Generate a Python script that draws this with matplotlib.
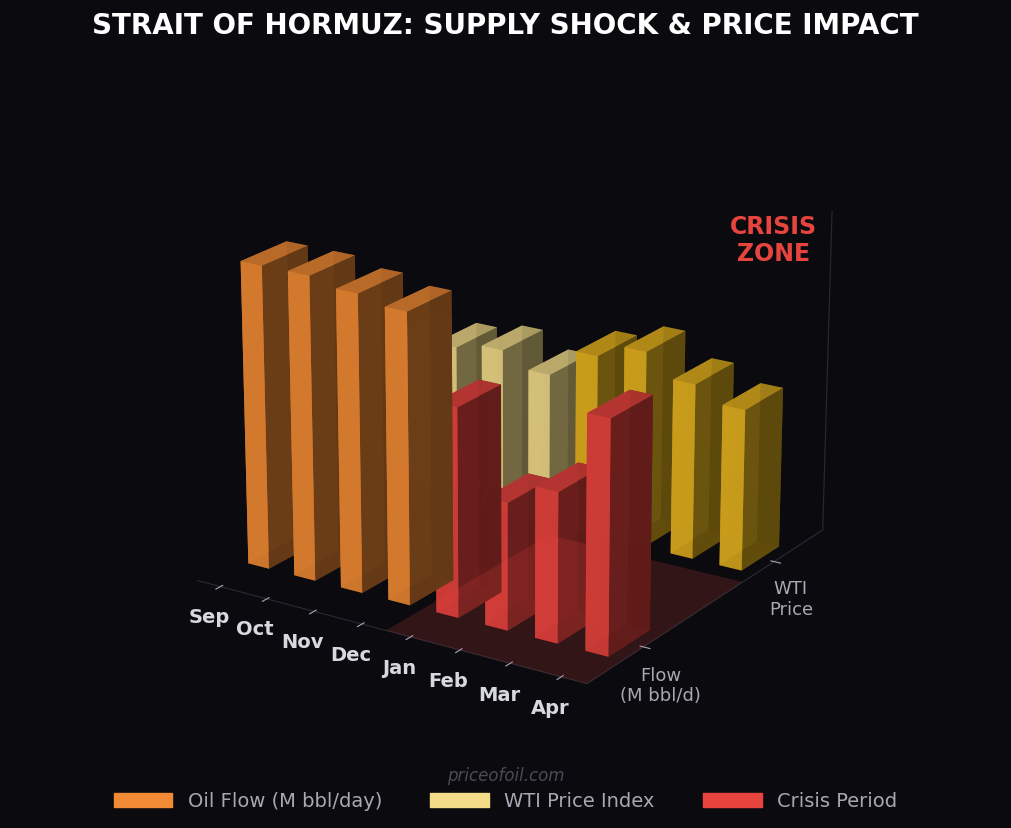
import numpy as np
import matplotlib.pyplot as plt
from matplotlib.patches import Patch

months = ['Sep', 'Oct', 'Nov', 'Dec', 'Jan', 'Feb', 'Mar', 'Apr']
flow = [20.5, 20.5, 20.0, 19.5, 14.0, 8.5, 10.0, 15.5]
wti = [11.0, 11.0, 11.5, 10.5, 12.5, 13.5, 12.0, 11.0]
crisis = [False, False, False, False, True, True, True, True]
row_labels = ['Flow\n(M bbl/d)', 'WTI\nPrice']

bg = '#0b0b0f'
fig = plt.figure(figsize=(10.11, 8.29), dpi=100, facecolor=bg)
ax = fig.add_axes([0.0, 0.08, 1.0, 0.86], projection='3d', facecolor=bg)
ax.view_init(elev=20, azim=-57)

dx, dy = 0.45, 0.3
for i, m in enumerate(months):
    c_flow = '#e8443e' if crisis[i] else '#f08a35'
    c_wti = '#e6b31e' if crisis[i] else '#f2dc8a'
    ax.bar3d(i - dx / 2, 0 - dy / 2, 0, dx, dy, flow[i], color=c_flow, alpha=0.92, shade=True)
    ax.bar3d(i - dx / 2, 1 - dy / 2, 0, dx, dy, wti[i], color=c_wti, alpha=0.85, shade=True)

# crisis zone floor
xs = np.array([[3.5, 7.5], [3.5, 7.5]])
ys = np.array([[-0.4, -0.4], [0.75, 0.75]])
ax.plot_surface(xs, ys, np.zeros_like(xs), color='#e8443e', alpha=0.18, shade=False)

ax.tick_params(colors='#a8a8b4')
ax.set_xticks(range(len(months)))
ax.set_xticklabels(months, color='#d8d8e0', fontsize=14, fontweight='bold')
ax.set_yticks([0, 1])
ax.set_yticklabels(row_labels, color='#a8a8b4', fontsize=13)
ax.set_zticks([])
ax.set_xlim(-0.5, 7.5)
ax.set_ylim(-0.4, 1.4)
ax.set_zlim(0, 22)
for a in (ax.xaxis, ax.yaxis, ax.zaxis):
    a.set_pane_color((0, 0, 0, 0))
    a.line.set_color('#2a2a33')
ax.grid(False)

fig.suptitle('STRAIT OF HORMUZ: SUPPLY SHOCK & PRICE IMPACT', color='white',
             fontsize=20, fontweight='bold', y=0.985)
fig.text(0.765, 0.71, 'CRISIS\nZONE', color='#e8443e', fontsize=17,
         fontweight='bold', ha='center', va='center')
fig.text(0.5, 0.058, 'priceofoil.com', color='#4a4a58', fontsize=12,
         style='italic', ha='center')

handles = [Patch(color='#f08a35', label='Oil Flow (M bbl/day)'),
           Patch(color='#f2dc8a', label='WTI Price Index'),
           Patch(color='#e8443e', label='Crisis Period')]
fig.legend(handles=handles, loc='lower center', ncol=3, frameon=False,
           fontsize=14, labelcolor='#a8a8b4', bbox_to_anchor=(0.5, 0.0),
           handlelength=3, columnspacing=2.5)

fig.savefig('out.png', facecolor=bg)
